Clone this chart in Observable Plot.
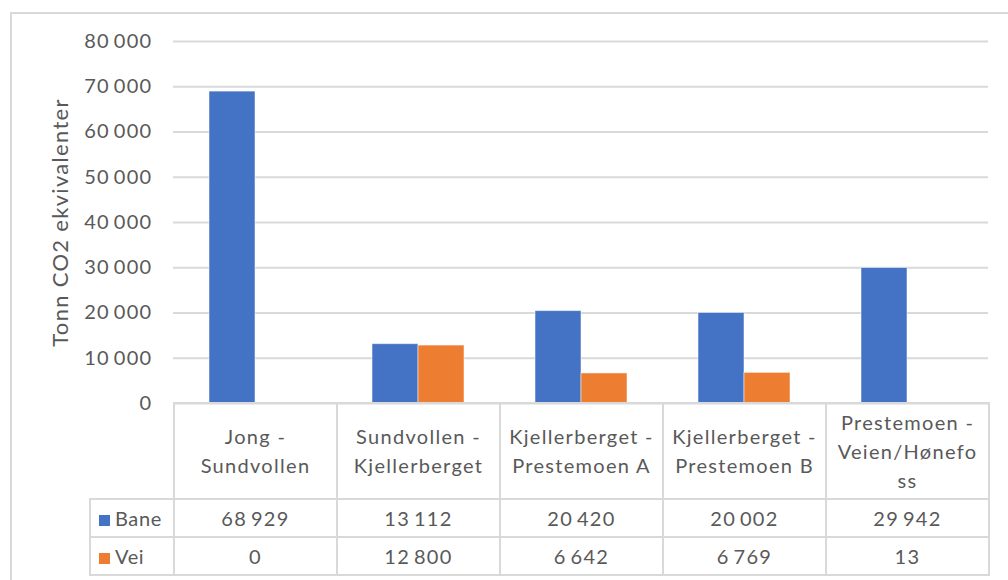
<!DOCTYPE html>
<html><head><meta charset="utf-8">
<script src="https://cdn.jsdelivr.net/npm/d3@7"></script>
<script src="https://cdn.jsdelivr.net/npm/@observablehq/plot@0.6"></script>
<style>
body{margin:0;background:#fff;font-family:Lato,sans-serif;}
#wrap{position:relative;width:1008px;height:580px;overflow:hidden;background:#fff;}
#frame{position:absolute;left:10px;top:12px;width:1020px;height:620px;border:2px solid #d9d9d9;box-sizing:border-box;}
#chart{position:absolute;left:0;top:0;}
#chart svg text{letter-spacing:1.3px;}
#tbl{position:absolute;left:89px;top:402px;border-collapse:collapse;table-layout:fixed;color:#595959;font-family:Lato,sans-serif;font-size:20px;letter-spacing:1.3px;}
#tbl td{border:2px solid #d9d9d9;text-align:center;padding:0;line-height:29px;}
#tbl td.blank{border:none;border-bottom:2px solid #d9d9d9;}
#tbl td.lab{text-align:left;padding-left:8px;letter-spacing:0.6px;}
.key{display:inline-block;width:11px;height:11px;margin-right:5px;vertical-align:0px;}
</style></head>
<body><div id="wrap"><div id="frame"></div><div id="chart"></div><table id="tbl"></table></div>
<script>
const categories = ["Jong - Sundvollen","Sundvollen - Kjellerberget","Kjellerberget - Prestemoen A","Kjellerberget - Prestemoen B","Prestemoen - Veien/Hønefoss"];
const categoryLines = [["Jong -","Sundvollen"],["Sundvollen -","Kjellerberget"],["Kjellerberget -","Prestemoen A"],["Kjellerberget -","Prestemoen B"],["Prestemoen -","Veien/Hønefo","ss"]];
const series = ["Bane","Vei"];
const bane = [68929,13112,20420,20002,29942];
const vei = [0,12800,6642,6769,13];
const colors = ["#4472C4","#ED7D31"];
const yTicks = [0,10000,20000,30000,40000,50000,60000,70000,80000];
const yLabel = "Tonn CO2 ekvivalenter";

const seriesValues = [bane, vei];
const data = categories.flatMap((c,i)=>series.map((s,j)=>({cat:c,series:s,value:seriesValues[j][i]})));
const fmt = v => d3.format(",")(v).replace(/,/g, "\u2009");

const chart = Plot.plot({
  width:1008, height:420, marginLeft:173, marginRight:20, marginTop:41, marginBottom:17,
  style:{fontFamily:"Lato, sans-serif", fontSize:"20px", color:"#595959", background:"transparent"},
  fx:{domain:categories, padding:0, axis:null},
  x:{domain:series, paddingInner:0, paddingOuter:0.77, axis:null},
  y:{domain:[0,80000]},
  color:{domain:series, range:colors},
  marks:[
    Plot.gridY(yTicks,{stroke:"#d9d9d9", strokeOpacity:1, strokeWidth:2}),
    Plot.axisY(yTicks,{tickSize:0, tickPadding:21, tickFormat:fmt, label:null, fill:"#595959"}),
    Plot.axisY({label:yLabel, labelAnchor:"center", labelArrow:"none", labelOffset:121, ticks:[], tickSize:0, fontSize:22, fill:"#595959"}),
    Plot.barY(data,{fx:"cat", x:"series", y:"value", fill:"series", stroke:"#fff", strokeOpacity:0.5, strokeWidth:1})
  ]
});
document.getElementById("chart").appendChild(chart);

// data table
const tbl = document.getElementById("tbl");
const cols = '<colgroup><col style="width:84px">' + categories.map(()=>'<col style="width:163px">').join("") + '</colgroup>';
let html = cols;
html += '<tr style="height:96px"><td class="blank"></td>' + categoryLines.map(l=>'<td>'+l.join("<br>")+'</td>').join("") + '</tr>';
series.forEach((s,j)=>{
  html += '<tr style="height:38px"><td class="lab"><span class="key" style="background:'+colors[j]+'"></span>'+s+'</td>' +
    seriesValues[j].map(v=>'<td>'+fmt(v)+'</td>').join("") + '</tr>';
});
tbl.innerHTML = html;
</script>
</body></html>
